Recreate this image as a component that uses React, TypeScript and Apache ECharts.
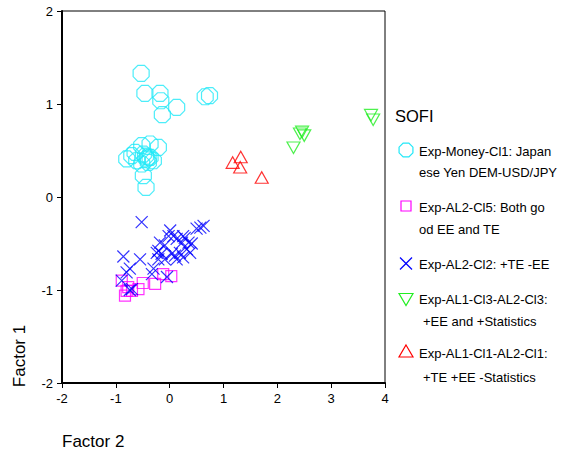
import React, { useEffect, useRef } from "react";
import * as echarts from "echarts";

// Cluster scores: [Factor 2, Factor 1]
const moneyCl1 = [
  [-0.53, 1.33], [-0.46, 1.115], [-0.18, 1.115], [-0.165, 1.035], [0.13, 0.964],
  [-0.136, 0.885], [0.66, 1.078], [0.74, 1.09],
  [-0.364, 0.57], [-0.21, 0.534], [-0.519, 0.552], [-0.643, 0.48], [-0.797, 0.409],
  [-0.704, 0.444], [-0.489, 0.462], [-0.426, 0.409], [-0.396, 0.373], [-0.364, 0.427],
  [-0.519, 0.355], [-0.489, 0.229], [-0.439, 0.104], [-0.612, 0.39], [-0.303, 0.39],
  [-0.45, 0.44], [-0.4, 0.43],
];
const al2Cl5 = [
  [-0.89, -0.9], [-0.8, -1.01], [-0.83, -1.06], [-0.7, -1.01], [-0.58, -0.99],
  [-0.5, -0.925], [-0.27, -0.935], [-0.12, -0.83], [0.03, -0.85], [-0.77, -0.97],
];
const al2Cl2 = [
  [-0.52, -0.27], [-0.86, -0.64], [-0.55, -0.67], [-0.74, -0.77], [-0.8, -0.81],
  [-0.89, -0.9], [-0.74, -1.0], [-0.7, -0.99], [-0.33, -0.83], [-0.05, -0.86],
  [-0.3, -0.77], [-0.21, -0.67], [-0.15, -0.61], [-0.18, -0.49], [-0.09, -0.52],
  [0.01, -0.36], [0.07, -0.42], [0.13, -0.45], [0.25, -0.42], [0.35, -0.49],
  [0.32, -0.56], [0.19, -0.6], [0.25, -0.65], [0.13, -0.67], [0.38, -0.6],
  [0.57, -0.33], [0.63, -0.31], [-0.09, -0.67], [0.04, -0.61], [-0.21, -0.58],
  [-0.02, -0.42], [0.23, -0.49], [0.5, -0.34], [0.28, -0.44], [0.41, -0.5],
  [-0.24, -0.6], [0.1, -0.63],
];
const al1Cl3 = [
  [3.74, 0.88], [3.78, 0.83], [2.3, 0.53], [2.42, 0.68], [2.5, 0.66], [2.46, 0.7],
];
const al1Cl1 = [
  [1.17, 0.37], [1.32, 0.43], [1.31, 0.32], [1.71, 0.21],
];

const seriesNames = [
  "Exp-Money-Cl1: Japanese Yen DEM-USD/JPY",
  "Exp-AL2-Cl5: Both good EE and TE",
  "Exp-AL2-Cl2: +TE -EE",
  "Exp-AL1-Cl3-AL2-Cl3: +EE and +Statistics",
  "Exp-AL1-Cl1-AL2-Cl1: +TE +EE -Statistics",
];
const legendLines = [
  ["Exp-Money-Cl1: Japan", "ese Yen DEM-USD/JPY"],
  ["Exp-AL2-Cl5: Both go", "od EE and TE"],
  ["Exp-AL2-Cl2: +TE -EE"],
  ["Exp-AL1-Cl3-AL2-Cl3:", "+EE and +Statistics"],
  ["Exp-AL1-Cl1-AL2-Cl1:", "+TE +EE -Statistics"],
];
const legendTitle = "SOFI";
const xTitle = "Factor 2";
const yTitle = "Factor 1";

const colors = ["#20E8F8", "#FF00FF", "#0000FF", "#22EE22", "#FF0000"];

const OCTAGON =
  "path://M96.2,69.1L69.1,96.2L30.9,96.2L3.8,69.1L3.8,30.9L30.9,3.8L69.1,3.8L96.2,30.9Z";
const SQUARE = "path://M0,0L100,0L100,100L0,100Z";
const CROSS = "path://M0,0L100,100M100,0L0,100";
const TRI_DOWN = "path://M0,0L100,0L50,87Z";
const TRI_UP = "path://M50,0L100,87L0,87Z";

const FONT = "'Liberation Sans', Arial, sans-serif";

function octagonPoints(cx: number, cy: number, r: number) {
  const pts: number[][] = [];
  for (let k = 0; k < 8; k++) {
    const a = ((22.5 + 45 * k) * Math.PI) / 180;
    pts.push([cx + r * Math.cos(a), cy + r * Math.sin(a)]);
  }
  return pts;
}

export default function App() {
  const ref = useRef<HTMLDivElement>(null);

  useEffect(() => {
    document.body.style.margin = "0";
    if (!ref.current) return;
    const chart = echarts.init(ref.current, null, { renderer: "svg" });

    const seriesData = [moneyCl1, al2Cl5, al2Cl2, al1Cl3, al1Cl1];
    const symbols = [OCTAGON, SQUARE, CROSS, TRI_DOWN, TRI_UP];
    const sizes: any[] = [16, 11, 12, [13, 11.5], [13, 11.5]];

    const series = seriesData.map((d, i) => ({
      type: "scatter",
      name: seriesNames[i],
      data: d,
      symbol: symbols[i],
      symbolSize: sizes[i],
      itemStyle: {
        color: "transparent",
        borderColor: colors[i],
        borderWidth: 1.2,
      },
      emphasis: { disabled: true },
    }));

    // Legend rows: icon centre y and text line y positions
    const iconX = 406;
    const textX = 419;
    const rows = [
      { iy: 150, ty: [151.5, 172.5] },
      { iy: 206, ty: [207.5, 229.5] },
      { iy: 263.5, ty: [264.5] },
      { iy: 299.5, ty: [299.5, 321] },
      { iy: 351, ty: [353.5, 377.5] },
    ];
    const legendElems: any[] = [];
    rows.forEach((row, i) => {
      const stroke = { stroke: colors[i], fill: "none", lineWidth: 1.2 };
      const cy = row.iy;
      if (i === 0) {
        legendElems.push({ type: "polygon", shape: { points: octagonPoints(iconX, cy, 7.5) }, style: stroke });
      } else if (i === 1) {
        legendElems.push({ type: "rect", shape: { x: iconX - 5, y: cy - 5, width: 10, height: 10 }, style: stroke });
      } else if (i === 2) {
        legendElems.push({ type: "line", shape: { x1: iconX - 6, y1: cy - 6, x2: iconX + 6, y2: cy + 6 }, style: stroke });
        legendElems.push({ type: "line", shape: { x1: iconX + 6, y1: cy - 6, x2: iconX - 6, y2: cy + 6 }, style: stroke });
      } else if (i === 3) {
        legendElems.push({ type: "polygon", shape: { points: [[iconX - 7, cy - 6], [iconX + 7, cy - 6], [iconX, cy + 6]] }, style: stroke });
      } else {
        legendElems.push({ type: "polygon", shape: { points: [[iconX, cy - 6], [iconX + 7, cy + 6], [iconX - 7, cy + 6]] }, style: stroke });
      }
      legendLines[i].forEach((line, j) => {
        const indent = j > 0 && i >= 3 ? 4 : 0;
        legendElems.push({
          type: "text",
          x: textX + indent,
          y: row.ty[j],
          style: {
            text: line,
            fill: "#000",
            font: `13px ${FONT}`,
            verticalAlign: "middle",
          },
        });
      });
    });

    chart.setOption({
      animation: false,
      backgroundColor: "#fff",
      grid: {
        left: 62,
        right: 183,
        top: 11,
        bottom: 69,
        show: true,
        borderColor: "#000",
        borderWidth: 1,
        containLabel: false,
      },
      xAxis: {
        type: "value",
        min: -2,
        max: 4,
        interval: 1,
        axisLine: { show: true, onZero: false, lineStyle: { color: "#000", width: 2 } },
        axisTick: { show: true, inside: false, length: 5, lineStyle: { color: "#000", width: 1 } },
        axisLabel: { color: "#000", fontSize: 13, fontFamily: FONT, margin: 9 },
        splitLine: { show: false },
      },
      yAxis: {
        type: "value",
        min: -2,
        max: 2,
        interval: 1,
        axisLine: { show: true, onZero: false, lineStyle: { color: "#000", width: 2 } },
        axisTick: { show: true, inside: false, length: 5, lineStyle: { color: "#000", width: 1 } },
        axisLabel: { color: "#000", fontSize: 13, fontFamily: FONT, margin: 9 },
        splitLine: { show: false },
      },
      series,
      graphic: [
        {
          type: "text",
          x: 19,
          y: 356,
          rotation: Math.PI / 2,
          style: {
            text: yTitle,
            fill: "#000",
            font: `17px ${FONT}`,
            align: "center",
            verticalAlign: "middle",
          },
        },
        {
          type: "text",
          x: 62,
          y: 441,
          style: {
            text: xTitle,
            fill: "#000",
            font: `17px ${FONT}`,
            align: "left",
            verticalAlign: "middle",
          },
        },
        {
          type: "text",
          x: 395,
          y: 116,
          style: {
            text: legendTitle,
            fill: "#000",
            font: `16.5px ${FONT}`,
            align: "left",
            verticalAlign: "middle",
          },
        },
        ...legendElems,
      ],
    });

    return () => chart.dispose();
  }, []);

  return <div ref={ref} style={{ width: 568, height: 452 }} />;
}
